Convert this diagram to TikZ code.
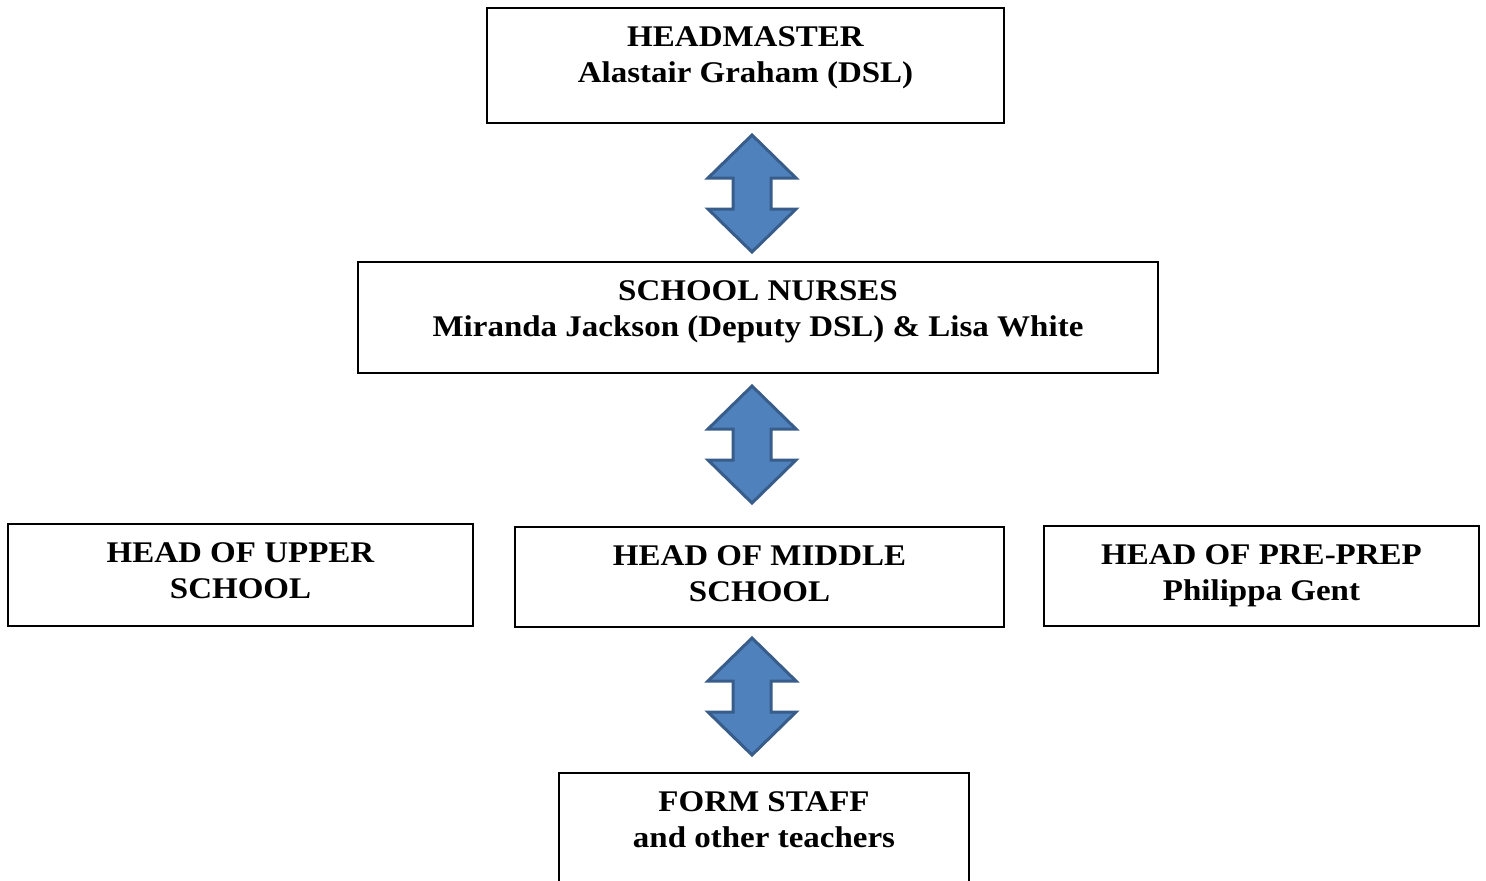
\documentclass[tikz,border=0pt]{standalone}
\usepackage{fontspec}
\setmainfont[FakeStretch=1.1]{Liberation Serif}
\usetikzlibrary{positioning}

\definecolor{arrowfill}{HTML}{4F81BD}
\definecolor{arrowline}{HTML}{385D8A}
\def\px{0.5pt}

\begin{document}
\begin{tikzpicture}[x=0.5pt, y=-0.5pt,
    box/.style={draw, line width=0.6pt, inner sep=0pt},
    txt/.style={anchor=north, align=center, inner sep=0pt,
        font=\bfseries\fontsize{15}{18}\selectfont},
    blue arrow/.style={fill=arrowfill, draw=arrowline, line width=1.5pt, line join=miter}]
    \clip (0,0) rectangle (1486,880);

    % boxes
    \node[box, minimum width=517*\px, minimum height=115*\px] (headmaster) at (745.5,65.5) {};
    \node[box, minimum width=800*\px, minimum height=111*\px] (nurses) at (758,317.5) {};
    \node[box, minimum width=465*\px, minimum height=102*\px] (upper) at (240.5,575) {};
    \node[box, minimum width=489*\px, minimum height=100*\px] (middle) at (759.5,577) {};
    \node[box, minimum width=435*\px, minimum height=100*\px] (preprep) at (1261.5,576) {};
    \node[box, minimum width=410*\px, minimum height=140*\px] (form) at (764,843) {};

    % texts
    \node[txt, below=9.5pt of headmaster.north] (headmaster text) {HEADMASTER\\Alastair Graham (DSL)};
    \node[txt, below=9.5pt of nurses.north] (nurses text) {SCHOOL NURSES\\Miranda Jackson (Deputy DSL) \& Lisa White};
    \node[txt, below=9.5pt of upper.north] (upper text) {HEAD OF UPPER\\SCHOOL};
    \node[txt, below=9.5pt of middle.north] (middle text) {HEAD OF MIDDLE\\SCHOOL};
    \node[txt, below=9.5pt of preprep.north] (preprep text) {HEAD OF PRE-PREP\\Philippa Gent};
    \node[txt, below=9.5pt of form.north] (form text) {FORM STAFF\\and other teachers};

    % double arrows
    \foreach \n/\t in {1/135,2/386,3/638} {
        \coordinate (arrow\n top) at (752,\t);
        \coordinate (arrow\n bottom) at (752,\t+117);
        \draw[blue arrow] (arrow\n top) -- ++(44,43) -- ++(-25,0) -- ++(0,31) -- ++(25,0)
            -- (arrow\n bottom) -- ++(-44,-43) -- ++(25,0) -- ++(0,-31) -- ++(-25,0) -- cycle;
    }
\end{tikzpicture}
\end{document}
